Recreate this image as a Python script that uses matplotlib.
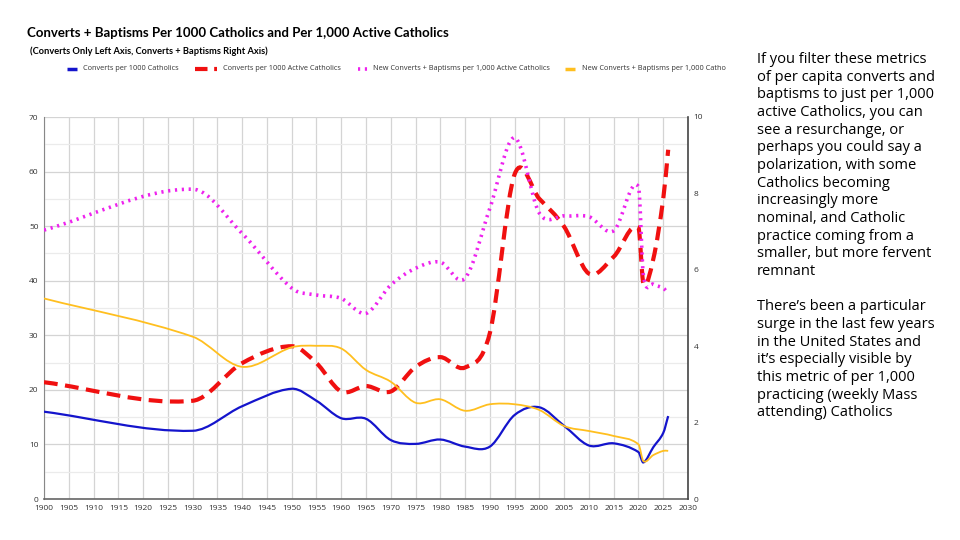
import matplotlib
matplotlib.use("Agg")
import matplotlib.pyplot as plt
import numpy as np
from matplotlib.path import Path
from matplotlib.patches import PathPatch
from matplotlib.lines import Line2D

# ---------------- data ----------------
years = [1900, 1930, 1940, 1950, 1955, 1960, 1965, 1970, 1975, 1980, 1985,
         1990, 1995, 2000, 2005, 2010, 2015, 2020, 2021, 2023, 2025, 2026]

# left axis
converts_per_1000 = [16.0, 12.5, 17.0, 20.2, 18.0, 14.8, 14.7, 10.8, 10.1, 10.9, 9.6,
                     9.6, 15.4, 16.8, 13.4, 9.8, 10.2, 8.6, 6.7, 9.5, 12.1, 15.2]
converts_per_1000_active = [21.4, 18.0, 24.9, 28.0, 24.9, 19.7, 20.7, 19.7, 24.2, 26.0, 24.1,
                            30.4, 59.5, 55.0, 49.9, 41.3, 44.4, 49.7, 39.5, 44.0, 55.0, 64.0]
# right axis
conv_bapt_per_1000_active = [7.04, 8.11, 6.95, 5.52, 5.34, 5.25, 4.86, 5.60, 6.04, 6.20, 5.78,
                             7.61, 9.46, 7.48, 7.41, 7.39, 7.02, 8.18, 5.85, 5.62, 5.52, 5.38]
conv_bapt_per_1000 = [5.25, 4.25, 3.46, 3.97, 4.01, 3.94, 3.38, 3.07, 2.52, 2.61, 2.31,
                      2.48, 2.48, 2.33, 1.91, 1.78, 1.65, 1.43, 0.99, 1.15, 1.26, 1.26]

labels = ["Converts per 1000 Catholics",
          "Converts per 1000 Active Catholics",
          "New Converts + Baptisms per 1,000 Active Catholics",
          "New Converts + Baptisms per 1,000 Catho"]

left_ticks = list(range(0, 71, 10))
right_ticks = [0, 2, 4, 6, 8, 10]
x_ticks = list(range(1900, 2031, 5))

title = "Converts + Baptisms Per 1000 Catholics and Per 1,000 Active Catholics"
subtitle = "(Converts Only Left Axis, Converts + Baptisms Right Axis)"
side_text = ("If you filter these metrics\nof per capita converts and\nbaptisms to just per 1,000\n"
             "active Catholics, you can\nsee a resurchange, or\nperhaps you could say a\n"
             "polarization, with some\nCatholics becoming\nincreasingly more\n"
             "nominal, and Catholic\npractice coming from a\nsmaller, but more fervent\nremnant\n\n"
             "There\u2019s been a particular\nsurge in the last few years\nin the United States and\n"
             "it\u2019s especially visible by\nthis metric of per 1,000\npracticing (weekly Mass\n"
             "attending) Catholics")

# ---------------- helpers ----------------
def smooth_path(xs, ys):
    """Excel-like smoothed line as cubic Bezier path through the data points."""
    xs = np.asarray(xs, float); ys = np.asarray(ys, float)
    n = len(xs)
    m = np.zeros(n)
    for i in range(n):
        if i == 0:
            m[i] = (ys[1] - ys[0]) / (xs[1] - xs[0])
        elif i == n - 1:
            m[i] = (ys[-1] - ys[-2]) / (xs[-1] - xs[-2])
        else:
            m[i] = (ys[i + 1] - ys[i - 1]) / (xs[i + 1] - xs[i - 1])
    verts = [(xs[0], ys[0])]
    codes = [Path.MOVETO]
    for i in range(n - 1):
        h = xs[i + 1] - xs[i]
        verts += [(xs[i] + h / 3, ys[i] + m[i] * h / 3),
                  (xs[i + 1] - h / 3, ys[i + 1] - m[i + 1] * h / 3),
                  (xs[i + 1], ys[i + 1])]
        codes += [Path.CURVE4] * 3
    return Path(verts, codes)

def add_curve(ax, xs, ys, **kw):
    p = PathPatch(smooth_path(xs, ys), fill=False, transform=ax.transData, **kw)
    ax.add_patch(p)

# ---------------- figure ----------------
fig = plt.figure(figsize=(9.6, 5.4), dpi=100)
fig.patch.set_facecolor("white")
ax = fig.add_axes([44 / 960, 1 - 499 / 540, (688 - 44) / 960, (499 - 117) / 540])
ax2 = ax.twinx()

BLUE = "#1414CC"
RED = "#F01010"
MAG = "#EE22EE"
GOLD = "#FFBF1F"

ax.set_xlim(1900, 2030)
ax.set_ylim(0, 70)
ax2.set_ylim(0, 10)

ax.set_xticks(x_ticks)
ax.set_xticklabels([str(t) for t in x_ticks])
ax.set_yticks(left_ticks)
ax.set_yticks(list(range(5, 70, 10)), minor=True)
ax2.set_yticks(right_ticks)

ax.grid(True, which="major", axis="both", color="#D4D4D4", linewidth=0.9)
ax.grid(True, which="minor", axis="y", color="#EBEBEB", linewidth=0.9)
ax.set_axisbelow(True)

for a in (ax, ax2):
    a.tick_params(axis="both", which="both", length=0, labelsize=6, colors="#333333")
    for lab in a.get_xticklabels() + a.get_yticklabels():
        lab.set_fontfamily("Open Sans")
ax.tick_params(axis="y", pad=4)
ax.tick_params(axis="x", pad=4)
ax2.tick_params(axis="y", pad=4)

for a in (ax, ax2):
    a.spines["top"].set_visible(False)
ax.spines["right"].set_visible(False)
ax2.spines["left"].set_visible(False)
ax2.spines["bottom"].set_visible(False)
ax.spines["left"].set_color("#888888")
ax.spines["bottom"].set_color("#666666")
ax2.spines["right"].set_color("#444444")
ax.spines["bottom"].set_linewidth(1.2)
ax2.spines["right"].set_linewidth(1.2)

add_curve(ax, years, converts_per_1000, edgecolor=BLUE, linewidth=1.6, zorder=4)
add_curve(ax, years, converts_per_1000_active, edgecolor=RED, linewidth=3.0,
          linestyle=(0, (3.3, 1.8)), zorder=4, capstyle="butt")
add_curve(ax2, years, conv_bapt_per_1000_active, edgecolor=MAG, linewidth=2.6,
          linestyle=(0, (0.6, 1.3)), zorder=4, capstyle="butt")
add_curve(ax2, years, conv_bapt_per_1000, edgecolor=GOLD, linewidth=1.3, zorder=4)

# ---------------- titles ----------------
fig.text(27 / 960, 1 - 33 / 540, title, fontsize=9.5, fontweight="bold",
         family="Lato", va="center", ha="left", color="black")
fig.text(30 / 960, 1 - 51 / 540, subtitle, fontsize=6.65, fontweight="bold",
         family="Lato", va="center", ha="left", color="black")

# ---------------- legend ----------------
leg_y = 1 - 69 / 540
styles = [dict(color=BLUE, lw=2.5, ls="-"),
          dict(color=RED, lw=3.0, ls=(0, (3.0, 1.6))),
          dict(color=MAG, lw=2.6, ls=(0, (0.6, 1.3))),
          dict(color=GOLD, lw=2.5, ls="-")]
handle_x = [(67, 77), (195, 217), (358, 368), (565, 575)]
text_x = [83, 223, 373, 582]
for st, (x0, x1), tx, lab in zip(styles, handle_x, text_x, labels):
    fig.add_artist(Line2D([x0 / 960, x1 / 960], [leg_y, leg_y], transform=fig.transFigure,
                          solid_capstyle="butt", dash_capstyle="butt", **st))
    fig.text(tx / 960, leg_y, lab, fontsize=5.3, family="Open Sans", va="center",
             ha="left", color="#333333")

# ---------------- side text ----------------
fig.text(757 / 960, 1 - 52 / 540, side_text, fontsize=10.5, family="Open Sans",
         va="top", ha="left", color="black", linespacing=1.243)

fig.savefig("out.png", dpi=100, facecolor="white")
